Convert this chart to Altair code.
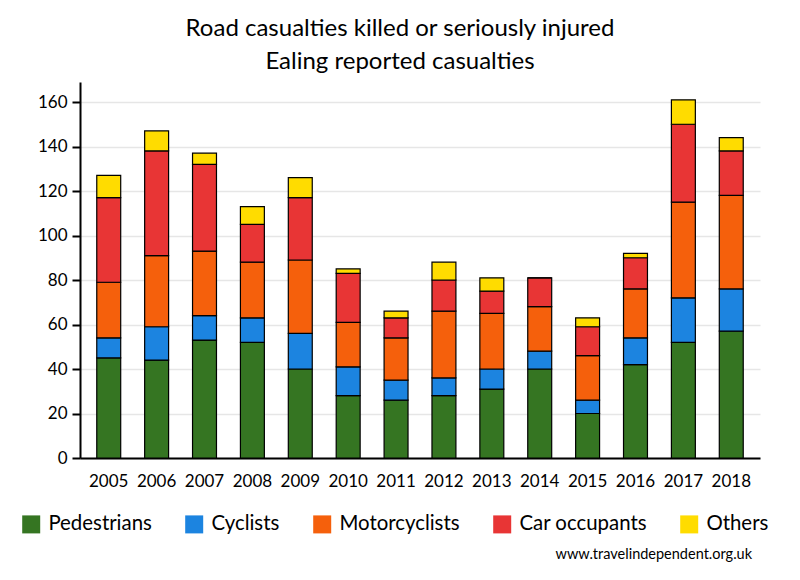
import altair as alt
import pandas as pd

years = ["2005", "2006", "2007", "2008", "2009", "2010", "2011", "2012", "2013", "2014", "2015", "2016", "2017", "2018"]
categories = ["Pedestrians", "Cyclists", "Motorcyclists", "Car occupants", "Others"]
colors = ["#357522", "#1c84e0", "#f5600c", "#e83535", "#ffdc00"]

pedestrians = [45, 44, 53, 52, 40, 28, 26, 28, 31, 40, 20, 42, 52, 57]
cyclists = [9, 15, 11, 11, 16, 13, 9, 8, 9, 8, 6, 12, 20, 19]
motorcyclists = [25, 32, 29, 25, 33, 20, 19, 30, 25, 20, 20, 22, 43, 42]
car_occupants = [38, 47, 39, 17, 28, 22, 9, 14, 10, 13, 13, 14, 35, 20]
others = [10, 9, 5, 8, 9, 2, 3, 8, 6, 0, 4, 2, 11, 6]

series = [pedestrians, cyclists, motorcyclists, car_occupants, others]
rows = []
for ci, (cat, vals) in enumerate(zip(categories, series)):
    for y, v in zip(years, vals):
        rows.append({"year": y, "category": cat, "value": v, "idx": ci})
df = pd.DataFrame(rows)

FONT = "Lato"

bars = alt.Chart(df).mark_bar(stroke="black", strokeWidth=1.2).encode(
    x=alt.X("year:N", sort=years, title=None,
            scale=alt.Scale(paddingInner=0.5, paddingOuter=0.35),
            axis=alt.Axis(labelAngle=0, ticks=False, labelPadding=15, labelFontSize=17,
                          labelFont=FONT, labelColor="black", domainColor="black",
                          domainWidth=2, grid=False)),
    y=alt.Y("value:Q", stack="zero", title=None,
            scale=alt.Scale(domain=[0, 169], nice=False),
            axis=alt.Axis(values=[0, 20, 40, 60, 80, 100, 120, 140, 160], labelFontSize=17,
                          labelFont=FONT, labelColor="black", domainColor="black",
                          domainWidth=2, tickColor="black", tickWidth=2, tickSize=8,
                          labelPadding=5, gridColor="#e6e6e6", gridWidth=1.5)),
    color=alt.Color("category:N", sort=categories,
                    scale=alt.Scale(domain=categories, range=colors),
                    legend=alt.Legend(title=None, orient="none", direction="horizontal",
                                      legendX=-59, legendY=432, symbolType="square",
                                      symbolSize=324, symbolStrokeWidth=0, symbolOpacity=1,
                                      labelFontSize=20.4, labelFont=FONT, labelColor="black",
                                      columnPadding=32, symbolOffset=0, labelOffset=7)),
    order=alt.Order("idx:Q", sort="ascending"),
)

foot = alt.Chart(pd.DataFrame({"t": ["www.travelindependent.org.uk"]})).mark_text(
    align="right", baseline="middle", fontSize=14.5, font=FONT, color="black"
).encode(x=alt.value(672), y=alt.value(473), text="t:N")

chart = alt.layer(bars, foot).properties(
    width=680, height=376,
    title=alt.TitleParams(["Road casualties killed or seriously injured", "Ealing reported casualties"],
                          fontSize=24, font=FONT, fontWeight="normal", color="black",
                          anchor="middle", dx=-20, offset=8, lineHeight=33),
    autosize=alt.AutoSizeParams(type="none"),
    padding={"left": 72, "top": 74, "right": 28, "bottom": 110},
).configure_view(stroke=None).configure_axis(labelFontWeight="normal")

chart.save("out.html", embed_options={"renderer": "svg", "actions": False})
